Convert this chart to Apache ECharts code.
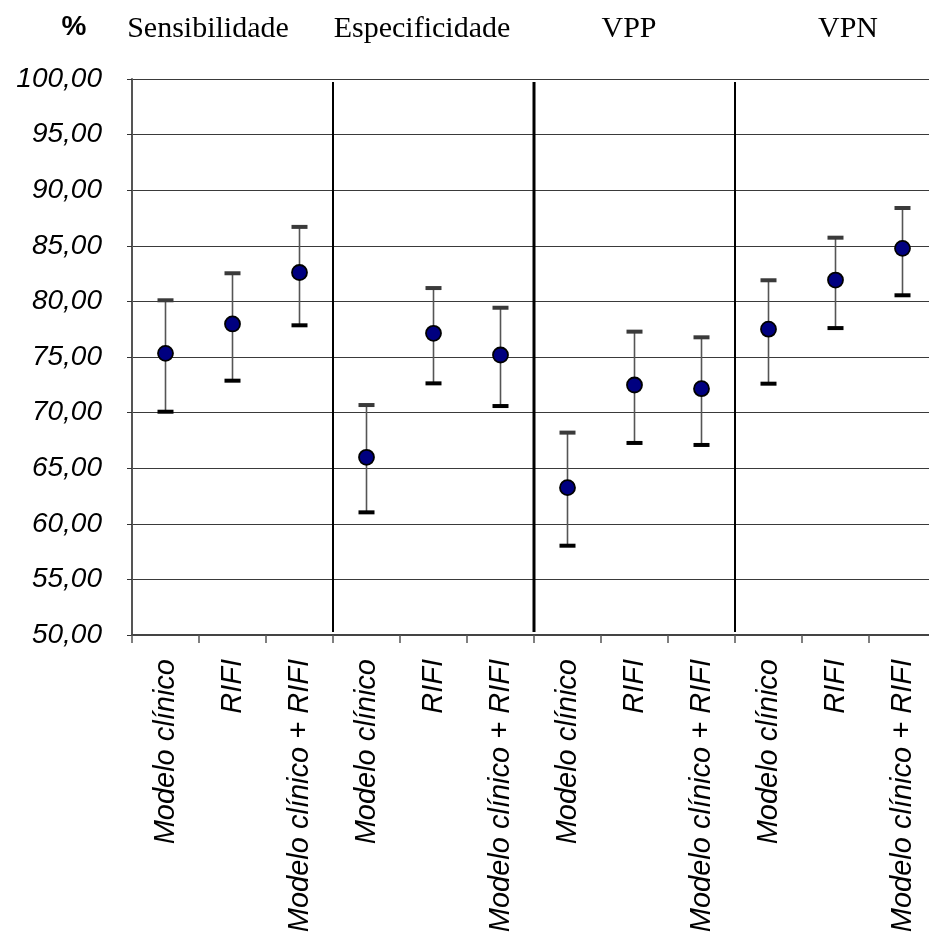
<!DOCTYPE html>
<html>
<head>
<meta charset="utf-8">
<script src="https://cdn.jsdelivr.net/npm/echarts@6/dist/echarts.min.js"></script>
<style>html,body{margin:0;padding:0;background:#fff;}#chart{width:929px;height:934px;}</style>
</head>
<body>
<div id="chart"></div>
<script>
// ---- data ----
var groups = ['Sensibilidade', 'Especificidade', 'VPP', 'VPN'];
var methods = ['Modelo clínico', 'RIFI', 'Modelo clínico + RIFI'];
var categories = [
  'Modelo clínico', 'RIFI', 'Modelo clínico + RIFI',
  'Modelo clínico', 'RIFI', 'Modelo clínico + RIFI',
  'Modelo clínico', 'RIFI', 'Modelo clínico + RIFI',
  'Modelo clínico', 'RIFI', 'Modelo clínico + RIFI'
];
var estimate = [75.33, 77.97, 82.60, 65.98, 77.13, 75.18, 63.25, 72.48, 72.15, 77.50, 81.92, 84.77];
var lower    = [70.08, 72.87, 77.85, 61.03, 72.63, 70.59, 58.03, 67.27, 67.09, 72.60, 77.60, 80.55];
var upper    = [80.10, 82.53, 86.70, 70.68, 81.20, 79.43, 68.20, 77.28, 76.77, 81.90, 85.73, 88.40];
var yTicks = [50, 55, 60, 65, 70, 75, 80, 85, 90, 95, 100];
var separatorsAfter = [2, 5, 8]; // category indices after which a group separator is drawn

// ---- build ----
var errData = estimate.map(function (v, i) { return [i, lower[i], upper[i]]; });
var sepData = separatorsAfter.map(function (i) { return [i, yTicks[0], yTicks[yTicks.length - 1]]; });

var chart = echarts.init(document.getElementById('chart'));
var labelFont = 'Liberation Sans, Arial, Helvetica, sans-serif';
var headFont = '30px Liberation Serif, Times New Roman, serif';

var option = {
  animation: false,
  backgroundColor: '#fff',
  grid: { left: 132, top: 79, width: 804, height: 556, containLabel: false, outerBoundsMode: 'none' },
  xAxis: {
    type: 'category',
    data: categories,
    boundaryGap: true,
    axisLine: { show: true, lineStyle: { color: '#444', width: 2 } },
    axisTick: { show: true, interval: 0, length: 8, lineStyle: { color: '#555', width: 1.5 } },
    axisLabel: {
      interval: 0, rotate: 90, margin: 24,
      fontFamily: labelFont, fontStyle: 'italic', fontSize: 29, color: '#000'
    },
    splitLine: { show: false }
  },
  yAxis: {
    type: 'value',
    min: yTicks[0], max: yTicks[yTicks.length - 1], interval: 5,
    axisLine: { show: true, lineStyle: { color: '#555', width: 2 } },
    axisTick: { show: true, length: 5, lineStyle: { color: '#333', width: 1 } },
    axisLabel: {
      margin: 30,
      fontFamily: labelFont, fontStyle: 'italic', fontSize: 28, color: '#000',
      formatter: function (v) { return v.toFixed(2).replace('.', ','); }
    },
    splitLine: { show: true, lineStyle: { color: '#3a3a3a', width: 1 } }
  },
  graphic: [
    { type: 'text', x: 74, y: 27, style: { text: '%', font: 'bold 28px ' + labelFont, fill: '#000', align: 'center', verticalAlign: 'middle' } },
    { type: 'text', x: 208, y: 29, style: { text: groups[0], font: headFont, fill: '#000', align: 'center', verticalAlign: 'middle' } },
    { type: 'text', x: 422, y: 29, style: { text: groups[1], font: headFont, fill: '#000', align: 'center', verticalAlign: 'middle' } },
    { type: 'text', x: 629, y: 29, style: { text: groups[2], font: headFont, fill: '#000', align: 'center', verticalAlign: 'middle' } },
    { type: 'text', x: 848, y: 29, style: { text: groups[3], font: headFont, fill: '#000', align: 'center', verticalAlign: 'middle' } }
  ],
  series: [
    {
      type: 'custom',
      name: 'separators',
      data: sepData,
      silent: true,
      z: 3,
      renderItem: function (params, api) {
        var idx = api.value(0);
        var half = api.size([1, 0])[0] / 2;
        var top = api.coord([idx, api.value(2)]);
        var bot = api.coord([idx, api.value(1)]);
        var x = top[0] + half;
        return {
          type: 'line',
          shape: { x1: x, y1: top[1] + 3, x2: x, y2: bot[1] - 3 },
          style: { stroke: '#000', lineWidth: idx === 5 ? 3 : 2 }
        };
      },
      encode: { x: 0, y: [1, 2] }
    },
    {
      type: 'custom',
      name: 'IC95',
      data: errData,
      z: 4,
      renderItem: function (params, api) {
        var i = api.value(0);
        var lo = api.coord([i, api.value(1)]);
        var hi = api.coord([i, api.value(2)]);
        var hw = 8;
        return {
          type: 'group',
          children: [
            { type: 'line', shape: { x1: lo[0], y1: lo[1], x2: hi[0], y2: hi[1] }, style: { stroke: '#555', lineWidth: 1.6 } },
            { type: 'line', shape: { x1: hi[0] - hw, y1: hi[1], x2: hi[0] + hw, y2: hi[1] }, style: { stroke: '#3a3a3a', lineWidth: 4 } },
            { type: 'line', shape: { x1: lo[0] - hw, y1: lo[1], x2: lo[0] + hw, y2: lo[1] }, style: { stroke: '#000', lineWidth: 4 } }
          ]
        };
      },
      encode: { x: 0, y: [1, 2] }
    },
    {
      type: 'scatter',
      name: 'Estimativa',
      data: estimate,
      symbol: 'circle',
      symbolSize: 15,
      z: 5,
      itemStyle: { color: '#000080', borderColor: '#000', borderWidth: 1.8, opacity: 1 }
    }
  ]
};
chart.setOption(option);
</script>
</body>
</html>
